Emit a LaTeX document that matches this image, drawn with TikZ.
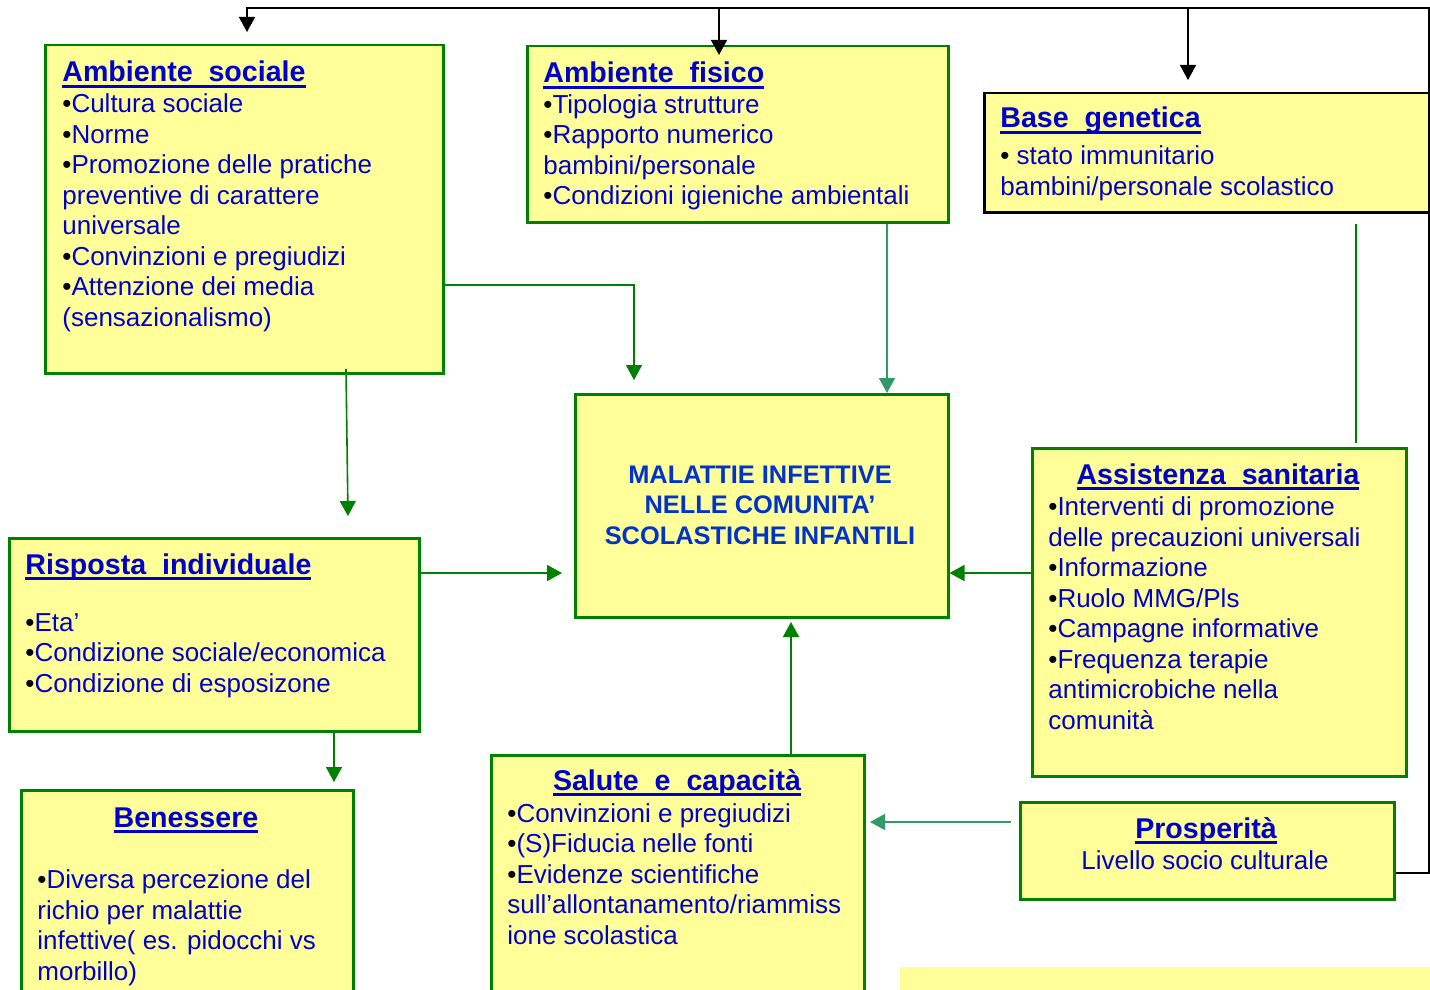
\documentclass[tikz,border=0pt]{standalone}
\usepackage{fontspec}
\setmainfont{Liberation Sans}
\usetikzlibrary{arrows.meta}
\definecolor{boxfill}{HTML}{FFFF99}
\definecolor{boxline}{HTML}{008000}
\definecolor{lgreen}{HTML}{339966}
\definecolor{txtblue}{HTML}{0000CC}
\definecolor{ctrblue}{HTML}{0033CC}
\newcommand\bu{{\color{black}•}}
\newcommand\ttlul[1]{\setbox0\hbox{#1}\rlap{\raisebox{-3pt}{\rule{\wd0}{1.3pt}}}\box0}
\tikzset{
  box/.style={draw=boxline, fill=boxfill, line width=1.25pt, inner sep=0pt, anchor=north west},
  bodytxt/.style={text=txtblue, font=\fontsize{13}{15.25}\selectfont, align=left, inner sep=0pt, anchor=base west},
  ttltxt/.style={text=txtblue, font=\fontsize{14.3}{17}\selectfont\bfseries, inner sep=0pt, anchor=base west},
  tip/.style={-{Triangle[width=8pt,length=7.5pt]}},
  conn/.style={draw=boxline, line width=0.8pt, tip},
  lconn/.style={draw=lgreen, line width=0.8pt, tip},
  blk/.style={draw=black, line width=0.75pt},
}
\begin{document}
\begin{tikzpicture}[x=0.5pt,y=-0.5pt]
\clip (0,0) rectangle (1430,990);
% boxes
\node[box, minimum width=199pt, minimum height=164pt] (ambsoc) at (44,44) {};
\node[box, minimum width=210.5pt, minimum height=88pt] (ambfis) at (526,45) {};
\node[box, draw=black, minimum width=228.5pt, minimum height=59.5pt] (basegen) at (983,92) {};
\node[box, minimum width=186.5pt, minimum height=111.5pt] (central) at (574,393) {};
\node[box, minimum width=187pt, minimum height=164pt] (assist) at (1031,447) {};
\node[box, minimum width=205pt, minimum height=96.5pt] (risp) at (8,537) {};
\node[box, minimum width=166pt, minimum height=105.5pt] (ben) at (20,789) {};
\node[box, minimum width=186.5pt, minimum height=123pt] (salute) at (490,754) {};
\node[box, minimum width=187pt, minimum height=48.5pt] (prosp) at (1019,801) {};
\node[box, draw=none, minimum width=266pt, minimum height=15pt] (strip) at (899,966) {};

% texts (multi-line nodes: base anchor = baseline of last line)
\node[ttltxt] (ambsoc-t) at (62,82) {\ttlul{Ambiente\ \ sociale}};
\node[bodytxt] (ambsoc-b) at (62,326) {\bu Cultura sociale\\ \bu Norme\\ \bu Promozione delle pratiche\\ preventive di carattere\\ universale\\ \bu Convinzioni e pregiudizi\\ \bu Attenzione dei media\\ (sensazionalismo)};

\node[ttltxt] (ambfis-t) at (543,83) {\ttlul{Ambiente\ \ fisico}};
\node[bodytxt] (ambfis-b) at (543,205) {\bu Tipologia strutture\\ \bu Rapporto numerico\\ bambini/personale\\ \bu Condizioni igieniche ambientali};

\node[ttltxt] (basegen-t) at (1000,128) {\ttlul{Base\ \ genetica}};
\node[bodytxt] (basegen-b) at (1000,195) {\bu\ stato immunitario\\ bambini/personale scolastico};

\node[text=ctrblue, font=\fontsize{12.7}{15.25}\selectfont\bfseries, align=center, inner sep=0pt, anchor=base] (central-t) at (760,544) {MALATTIE INFETTIVE\\ NELLE COMUNITA’\\ SCOLASTICHE INFANTILI};

\node[ttltxt, anchor=base] (assist-t) at (1218,484) {\ttlul{Assistenza\ \ sanitaria}};
\node[bodytxt] (assist-b) at (1048,729) {\bu Interventi di promozione\\ delle precauzioni universali\\ \bu Informazione\\ \bu Ruolo MMG/Pls\\ \bu Campagne informative\\ \bu Frequenza terapie\\ antimicrobiche nella\\ comunità};

\node[ttltxt] (risp-t) at (25,574) {\ttlul{Risposta\ \ individuale}};
\node[bodytxt] (risp-b) at (25,692) {\bu Eta’\\ \bu Condizione sociale/economica\\ \bu Condizione di esposizone};

\node[ttltxt, anchor=base] (ben-t) at (186,827) {\ttlul{Benessere}};
\node[bodytxt] (ben-b) at (37,980) {\bu Diversa percezione del\\ richio per malattie\\ infettive( es. pidocchi vs\\ morbillo)};

\node[ttltxt, anchor=base] (salute-t) at (677,790) {\ttlul{Salute\ \ e\ \ capacità}};
\node[bodytxt] (salute-b) at (507,944) {\bu Convinzioni e pregiudizi\\ \bu (S)Fiducia nelle fonti\\ \bu Evidenze scientifiche\\ sull’allontanamento/riammiss\\ ione scolastica};

\node[ttltxt, anchor=base] (prosp-t) at (1206,838) {\ttlul{Prosperità}};
\node[bodytxt, anchor=base] (prosp-b) at (1205,869) {Livello socio culturale};

% black feedback loop
\coordinate (rc) at (1429,873);
\coordinate (tr) at (1429,8);
\coordinate (tl) at (247,8);
\coordinate (t2) at (719,8);
\coordinate (t3) at (1188,8);
\coordinate (a1) at (247,32);
\coordinate (a2) at (719,55);
\coordinate (a3) at (1188,80);
\draw[blk, tip] (prosp.east |- rc) -- (rc) -- (tr) -- (tl) -- (a1);
\draw[blk, tip] (t2) -- (a2);
\draw[blk, tip] (t3) -- (a3);

% green connectors
\coordinate (k1) at (634,380);
\draw[conn] (ambsoc.east |- 0,285) -| (k1);
\coordinate (f1) at (887,224);
\draw[lconn] (f1) -- (central.north -| f1);
\coordinate (g1) at (1356,224);
\coordinate (g2) at (1356,443);
\draw[draw=boxline, line width=0.8pt] (g1) -- (g2);
\coordinate (s1) at (346,369);
\coordinate (s2) at (348,516);
\draw[conn] (s1) -- (s2);
\coordinate (r1) at (562,573);
\draw[conn] (risp.east |- r1) -- (r1);
\draw[conn] (assist.west |- r1) -- (central.east |- r1);
\coordinate (u1) at (791,622);
\draw[conn] (salute.north -| u1) -- (u1);
\coordinate (p1) at (1011,822);
\coordinate (p2) at (870,822);
\draw[lconn] (p1) -- (p2);
\coordinate (b1) at (334,782);
\draw[conn] (risp.south -| b1) -- (b1);
\end{tikzpicture}
\end{document}
